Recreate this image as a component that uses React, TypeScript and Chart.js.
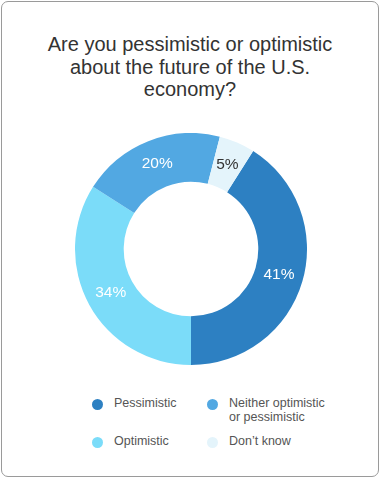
import React, { useEffect, useRef } from "react";
import { Chart, registerables } from "chart.js";

Chart.register(...registerables);

const titleLines = ["Are you pessimistic or optimistic", "about the future of the U.S.", "economy?"];
const categories = ["Pessimistic", "Optimistic", "Neither optimistic or pessimistic", "Don’t know"];
const values = [41, 34, 20, 5];
const colors = ["#2d80c2", "#7bdcf9", "#52a8e2", "#e4f4fb"];
const labelColors = ["#ffffff", "#ffffff", "#ffffff", "#333333"];
const legendOrder = [0, 2, 1, 3];
const legendLines = [["Pessimistic"], ["Optimistic"], ["Neither optimistic", "or pessimistic"], ["Don’t know"]];

const FONT = "'Liberation Sans', Arial, Helvetica, sans-serif";

const labelPlugin = {
  id: "segLabels",
  afterDatasetsDraw(chart: any) {
    const ctx = chart.ctx;
    const meta = chart.getDatasetMeta(0);
    ctx.save();
    ctx.font = `15.5px ${FONT}`;
    ctx.textAlign = "center";
    ctx.textBaseline = "middle";
    meta.data.forEach((arc: any, i: number) => {
      const p = arc.tooltipPosition();
      ctx.fillStyle = labelColors[i];
      ctx.fillText(values[i] + "%", p.x, p.y);
    });
    ctx.restore();
  },
};

export default function App() {
  const ref = useRef<HTMLCanvasElement>(null);
  useEffect(() => {
    const chart = new Chart(ref.current as HTMLCanvasElement, {
      type: "doughnut",
      data: {
        labels: categories,
        datasets: [
          {
            data: values,
            backgroundColor: colors,
            borderWidth: 0,
          },
        ],
      },
      options: {
        animation: false,
        responsive: false,
        maintainAspectRatio: false,
        cutout: "58%",
        rotation: 32.4,
        layout: { padding: 0 },
        plugins: {
          legend: { display: false },
          tooltip: { enabled: false },
        },
      },
      plugins: [labelPlugin],
    });
    return () => chart.destroy();
  }, []);

  const legendCell = (idx: number) => (
    <div key={idx} style={{ position: "relative", paddingLeft: 22 }}>
      <span
        style={{
          position: "absolute",
          left: 0,
          top: 2,
          width: 11,
          height: 11,
          borderRadius: "50%",
          background: colors[idx],
        }}
      />
      {legendLines[idx].map((l, k) => (
        <div key={k} style={{ lineHeight: "13.5px" }}>{l}</div>
      ))}
    </div>
  );

  return (
    <div
      style={{
        position: "absolute",
        left: 1,
        top: 1,
        width: 378,
        height: 476,
        boxSizing: "border-box",
        border: "1.5px solid #9a9a9a",
        borderRadius: 7,
        background: "#fff",
        fontFamily: FONT,
      }}
    >
      <div
        style={{
          position: "absolute",
          left: 0,
          top: 31,
          width: "100%",
          textAlign: "center",
          fontSize: 20,
          lineHeight: "22.5px",
          color: "#333",
        }}
      >
        {titleLines.map((t, i) => (
          <div key={i}>{t}</div>
        ))}
      </div>
      <canvas
        ref={ref}
        width={232}
        height={232}
        style={{ position: "absolute", left: 73, top: 131, width: 232, height: 232 }}
      />
      <div
        style={{
          position: "absolute",
          left: 90,
          top: 395,
          display: "grid",
          gridTemplateColumns: "115px 140px",
          rowGap: 11,
          fontSize: 12.5,
          color: "#555",
        }}
      >
        {legendOrder.map((i) => legendCell(i))}
      </div>
    </div>
  );
}
